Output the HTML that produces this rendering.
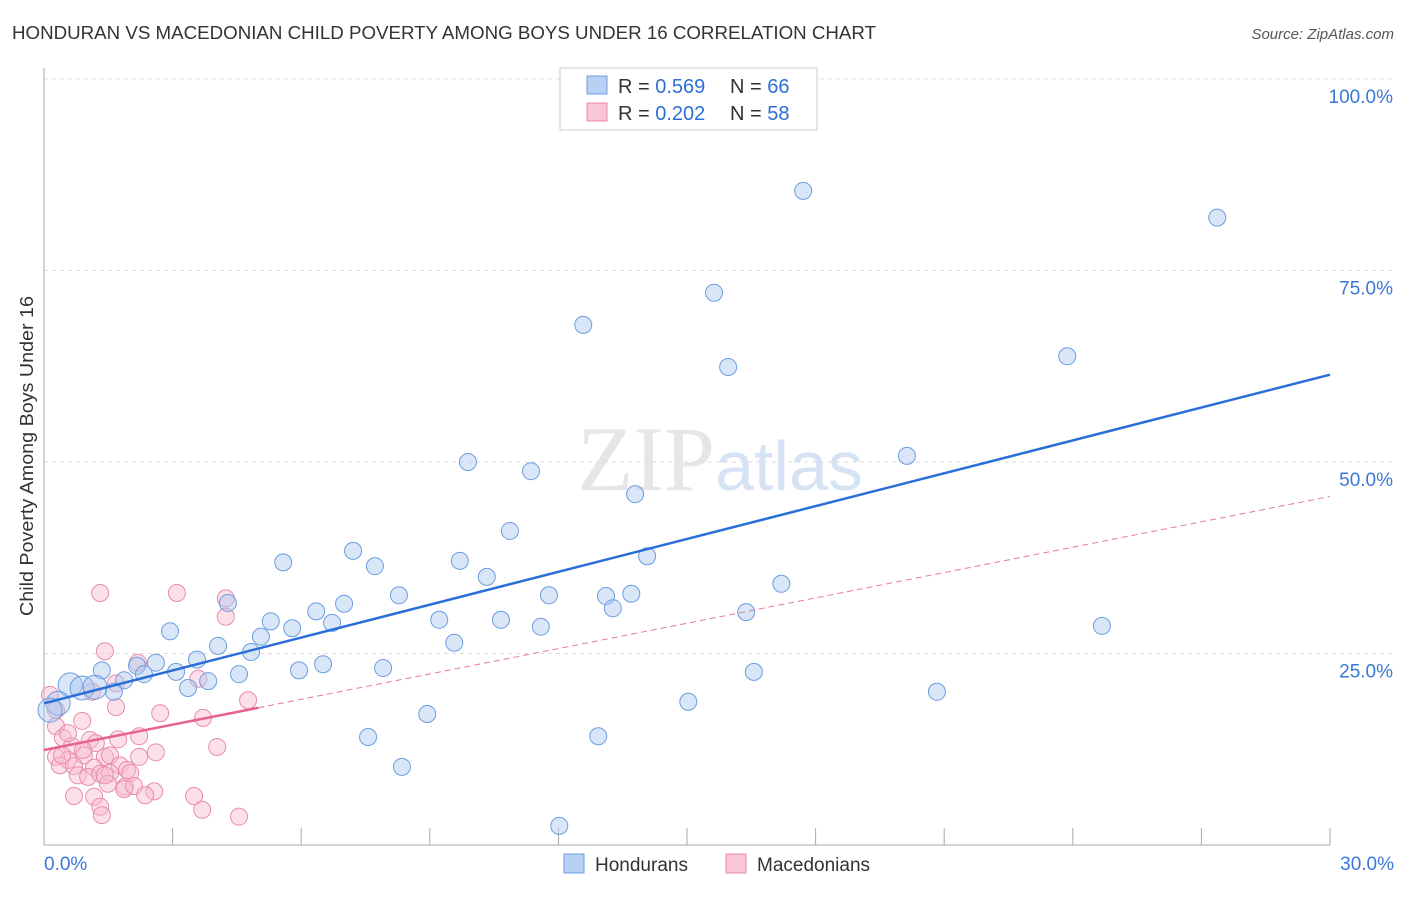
<!DOCTYPE html>
<html><head><meta charset="utf-8"><style>
body{margin:0;background:#fff;font-family:"Liberation Sans",sans-serif;}
</style></head><body>
<svg id="chart" width="1406" height="892" xmlns="http://www.w3.org/2000/svg" font-family="Liberation Sans, sans-serif">
<text x="12" y="39" font-size="18" fill="#333" textLength="864" lengthAdjust="spacingAndGlyphs">HONDURAN VS MACEDONIAN CHILD POVERTY AMONG BOYS UNDER 16 CORRELATION CHART</text>
<text x="1394" y="39" font-size="15" fill="#555" text-anchor="end" font-style="italic">Source: ZipAtlas.com</text>
<text transform="translate(33,456) rotate(-90)" font-size="18" fill="#333" text-anchor="middle" textLength="320" lengthAdjust="spacingAndGlyphs">Child Poverty Among Boys Under 16</text>
<text x="720" y="490" font-size="92" text-anchor="middle" fill="#e6e6e6" font-family="Liberation Serif, serif">ZIP<tspan fill="#d6e3f4" font-family="Liberation Sans, sans-serif" font-size="70">atlas</tspan></text>
<g id="grid"></g><g id="axes"></g><g id="marks"></g>
<g>
<rect x="560" y="68" width="257" height="62" fill="#fff" stroke="#ccc"/>
<rect x="587" y="76" width="20" height="18" fill="#b8d0f4" stroke="#6c9de0"/>
<rect x="587" y="103" width="20" height="18" fill="#f9c6d5" stroke="#e88aa8"/>
<text x="618" y="93" font-size="20" fill="#333">R = <tspan fill="#2e6fd6">0.569</tspan></text>
<text x="730" y="93" font-size="20" fill="#333">N = <tspan fill="#2e6fd6">66</tspan></text>
<text x="618" y="120" font-size="20" fill="#333">R = <tspan fill="#2e6fd6">0.202</tspan></text>
<text x="730" y="120" font-size="20" fill="#333">N = <tspan fill="#2e6fd6">58</tspan></text>
</g>
<g>
<rect x="564" y="854" width="20" height="19" fill="#b8d0f4" stroke="#6c9de0"/>
<text x="595" y="871" font-size="19" fill="#333">Hondurans</text>
<rect x="726" y="854" width="20" height="19" fill="#f9c6d5" stroke="#e88aa8"/>
<text x="757" y="871" font-size="19" fill="#333">Macedonians</text>
</g>
</svg>
<script>
const blueX=[17.71,27.37,15.63,12.58,15.96,23.87,9.89,11.36,20.13,13.79,10.87,7.21,5.58,7.72,9.7,14.07,10.33,17.2,8.28,11.78,13.11,13.7,4.29,7.0,13.27,6.35,16.38,5.29,9.22,10.66,6.72,5.79,11.59,24.68,2.94,5.06,4.06,9.57,4.83,2.61,6.51,1.35,5.95,7.91,2.17,3.08,16.56,3.57,2.33,4.55,1.87,3.83,3.36,1.63,20.83,0.61,0.89,1.19,0.33,0.14,15.03,8.94,7.56,12.93,8.35,12.02];
const blueY=[85.4,81.9,72.1,67.9,62.4,63.8,50.0,48.8,50.8,45.8,41.0,38.4,36.9,36.4,37.1,37.7,35.0,34.1,32.6,32.6,32.5,32.8,31.6,31.5,30.9,30.5,30.4,29.2,29.4,29.4,29.0,28.3,28.5,28.6,27.9,27.2,26.0,26.4,25.2,23.8,23.6,22.8,22.8,23.1,23.4,22.6,22.6,24.2,22.3,22.3,21.5,21.4,20.5,20.0,20.0,20.9,20.5,20.6,18.5,17.6,18.7,17.1,14.1,14.2,10.2,2.5];
const pinkX=[1.31,3.1,4.24,4.24,1.42,2.19,3.6,1.68,1.12,1.68,2.71,4.76,3.71,0.89,0.14,0.28,0.28,0.44,0.65,0.56,1.07,1.21,1.73,1.42,1.54,1.77,0.93,0.56,0.28,0.37,0.7,1.17,0.79,1.03,1.31,1.54,1.94,2.22,2.61,2.01,1.49,0.7,1.17,1.89,1.87,2.1,2.57,1.31,1.35,3.5,3.69,4.55,4.04,1.42,0.42,2.22,0.91,2.36];
const pinkY=[32.9,32.9,32.2,29.8,25.3,23.8,21.7,21.1,20.0,18.0,17.2,18.9,16.6,16.2,19.6,17.6,15.5,14.0,12.9,14.6,13.7,13.3,13.8,11.5,11.7,10.4,11.7,11.1,11.5,10.4,10.3,10.1,9.1,8.9,9.3,9.4,9.8,11.5,12.1,9.4,8.0,6.4,6.3,7.6,7.3,7.7,7.0,5.0,3.9,6.4,4.6,3.7,12.8,9.1,11.7,14.2,12.4,6.5];
const blueTrend=[18.5,61.4];
const pinkTrend=[12.4,45.5];
const pinkSolidEnd=5.0;
const yTicks=[25,50,75,100];
const xTickLabels=["0.0%","30.0%"];
const NS="http://www.w3.org/2000/svg";
const X=v=>44+v/30*1286, Y=v=>845-v/25*191.5;
function mk(p,t,a){const e=document.createElementNS(NS,t);for(const k in a)e.setAttribute(k,a[k]);p.appendChild(e);return e;}
const grid=document.getElementById('grid'),axes=document.getElementById('axes'),marks=document.getElementById('marks');
yTicks.forEach(t=>{
 const l=mk(grid,'line',{x1:44,x2:1394,y1:Y(t),y2:Y(t),stroke:'#ddd','stroke-dasharray':'4,4'});
 
 
 const tx=mk(axes,'text',{x:1393,y:Y(t)+24,'font-size':19,fill:'#3a78d8','text-anchor':'end'});tx.textContent=t.toFixed(1)+'%';
 
 
});
mk(axes,'line',{x1:44,x2:44,y1:68,y2:845,stroke:'#aaa'});
mk(axes,'line',{x1:44,x2:1330,y1:845,y2:845,stroke:'#aaa'});
for(let i=1;i<=10;i++){mk(axes,'line',{x1:X(i*3),x2:X(i*3),y1:828,y2:845,stroke:'#aaa'});}
const xl0=mk(axes,'text',{x:44,y:870,'font-size':19,fill:'#3a78d8'});xl0.textContent=xTickLabels[0];


const xl1=mk(axes,'text',{x:1394,y:870,'font-size':19,fill:'#3a78d8','text-anchor':'end'});xl1.textContent=xTickLabels[1];


pinkX.forEach((x,i)=>{const c=mk(marks,'circle',{cx:X(x),cy:Y(pinkY[i]),r:8.5,fill:'rgba(248,186,206,0.45)',stroke:'#e98cab','stroke-width':1});
 
 });
blueX.forEach((x,i)=>{const c=mk(marks,'circle',{cx:X(x),cy:Y(blueY[i]),r:i>=55&&i<=59?12:8.5,fill:'rgba(170,200,240,0.45)',stroke:'#6c9de0','stroke-width':1});
 
 });
const pd=mk(marks,'line',{x1:X(pinkSolidEnd),y1:Y(pinkTrend[0]+(pinkTrend[1]-pinkTrend[0])*pinkSolidEnd/30),x2:X(30),y2:Y(pinkTrend[1]),stroke:'#e8789c','stroke-width':1,'stroke-dasharray':'6,4'});


const ps=mk(marks,'line',{x1:X(0),y1:Y(pinkTrend[0]),x2:X(pinkSolidEnd),y2:Y(pinkTrend[0]+(pinkTrend[1]-pinkTrend[0])*pinkSolidEnd/30),stroke:'#e8628e','stroke-width':2.5});


const bl=mk(marks,'line',{x1:X(0),y1:Y(blueTrend[0]),x2:X(30),y2:Y(blueTrend[1]),stroke:'#2a6fd8','stroke-width':2.5});


</script>
</body></html>
